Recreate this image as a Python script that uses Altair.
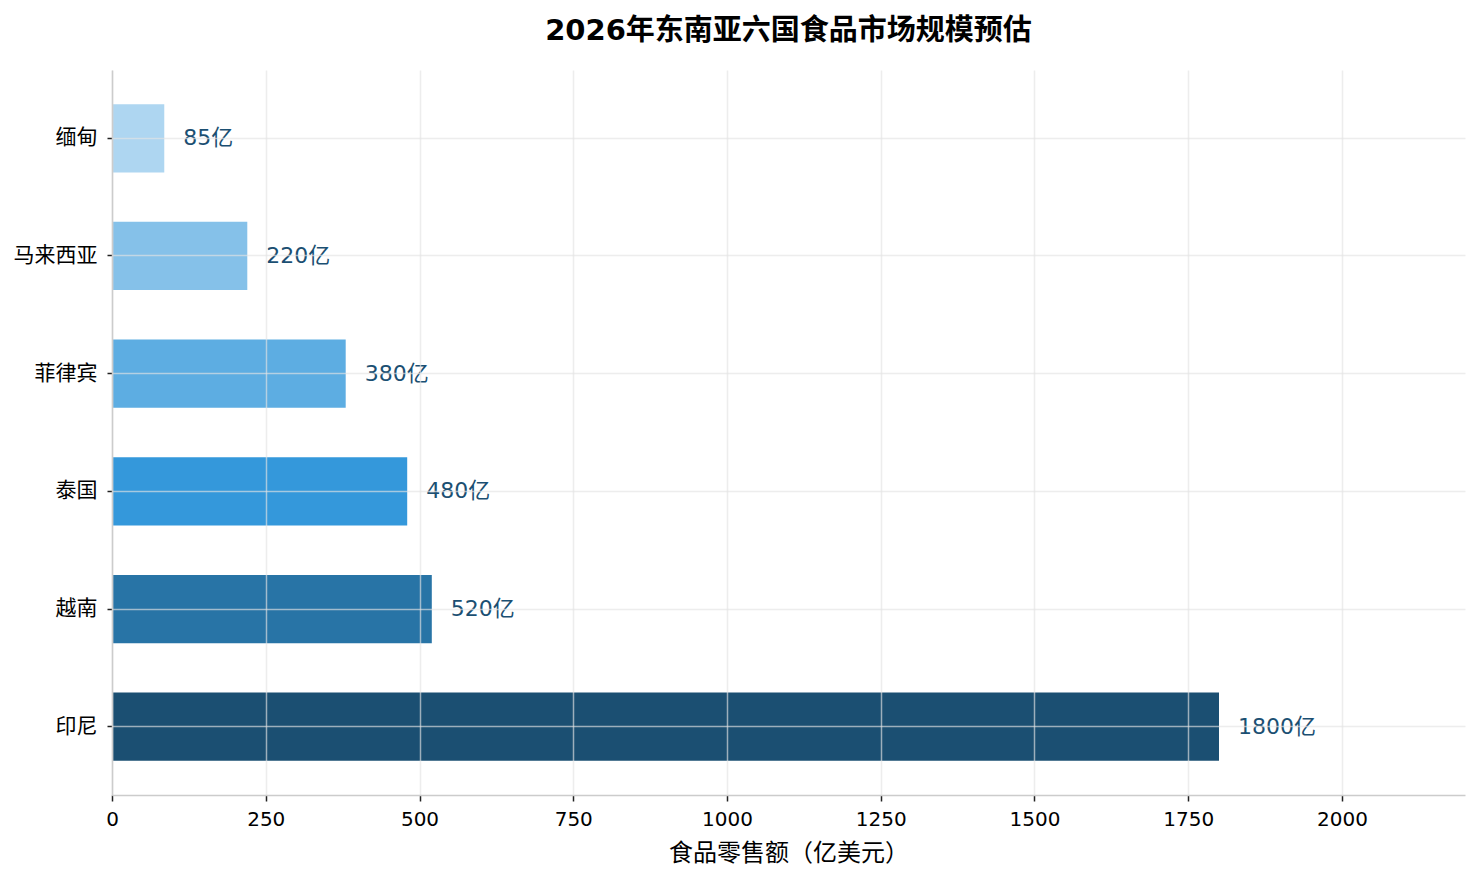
import altair as alt
import pandas as pd

countries = ["缅甸", "马来西亚", "菲律宾", "泰国", "越南", "印尼"]
sales = [85, 220, 380, 480, 520, 1800]
bar_colors = ["#aed6f1", "#85c1e9", "#5dade2", "#3498db", "#2874a6", "#1b4f72"]
x_ticks = [0, 250, 500, 750, 1000, 1250, 1500, 1750, 2000]

FONT = "DejaVu Sans, Noto Sans CJK SC"

df = pd.DataFrame({
    "country": countries,
    "sales": sales,
    "label": [f"{v}亿" for v in sales],
})

y_enc = alt.Y(
    "country:N",
    sort=countries,
    title=None,
    scale=alt.Scale(paddingInner=0.42, paddingOuter=0.29),
    axis=alt.Axis(
        grid=True,
        bandPosition=0.5,
        domainColor="#cccccc",
        domainWidth=1.5,
        tickColor="#222222",
        tickSize=5,
        tickWidth=1.5,
        labelPadding=10,
        labelFontSize=21,
        labelColor="#000000",
        gridColor="#e4e4e4",
        gridOpacity=0.65,
        gridWidth=1.5,
        zindex=1,
    ),
)

bars = alt.Chart(df).mark_bar().encode(
    y=y_enc,
    x=alt.X(
        "sales:Q",
        title="食品零售额（亿美元）",
        scale=alt.Scale(domain=[0, 2200], nice=False),
        axis=alt.Axis(
            values=x_ticks,
            format="d",
            labelFlush=False,
            grid=True,
            domainColor="#cccccc",
            domainWidth=1.5,
            tickColor="#222222",
            tickSize=6,
            tickWidth=1.5,
            labelPadding=8,
            labelFontSize=20,
            labelColor="#000000",
            titleFontSize=24,
            titleFontWeight="normal",
            titleColor="#000000",
            titlePadding=12,
            gridColor="#e4e4e4",
            gridOpacity=0.65,
            gridWidth=1.5,
            zindex=1,
        ),
    ),
    color=alt.Color("country:N", scale=alt.Scale(domain=countries, range=bar_colors), legend=None),
)

labels = alt.Chart(df).mark_text(
    align="left", baseline="middle", dx=19, fontSize=22, color="#1b4f72", font=FONT
).encode(
    y=alt.Y("country:N", sort=countries),
    x="sales:Q",
    text="label:N",
)

chart = (bars + labels).properties(
    width=1353,
    height=725,
    title=alt.Title(
        "2026年东南亚六国食品市场规模预估",
        fontSize=29,
        fontWeight="bold",
        color="#000000",
        anchor="middle",
        frame="group",
        offset=24,
        font=FONT,
    ),
    padding={"left": 5, "top": 9, "right": 5, "bottom": 5},
).configure(font=FONT).configure_view(stroke=None)

chart.save("out.html", embed_options={"renderer": "svg", "actions": False})
